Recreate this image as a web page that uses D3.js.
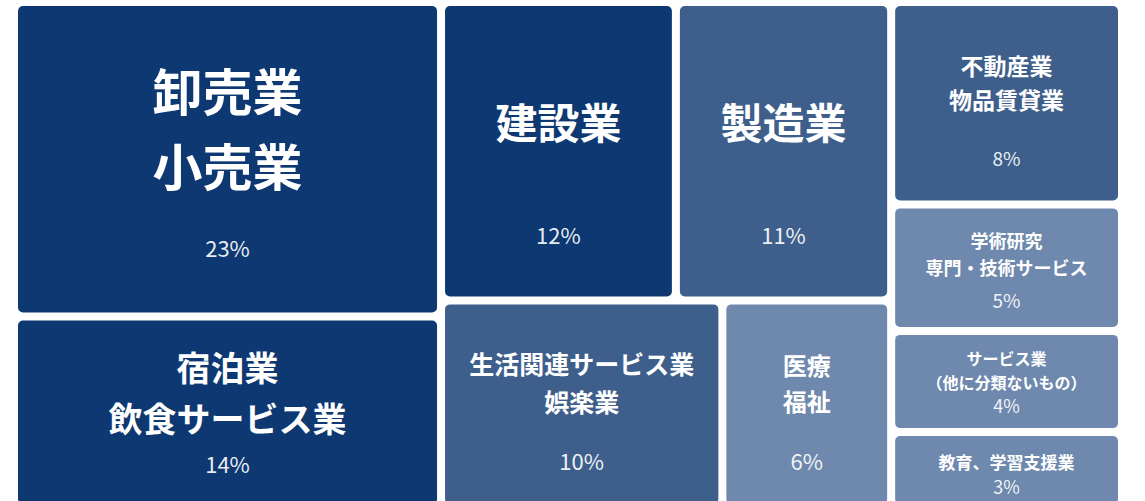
<!DOCTYPE html>
<html lang="ja">
<head>
  <meta charset="UTF-8">
  <title>業種別構成比</title>
  <script src="https://d3js.org/d3.v7.min.js"></script>
  <style>
    html, body { margin: 0; padding: 0; background: #fff; overflow: hidden; }
    svg { display: block; font-family: "Noto Sans CJK JP", "Noto Sans", sans-serif; }
  </style>
</head>
<body>
<div id="chart-container"></div>

<script>
// categories (label lines split by "|")
var categories = [
  "卸売業|小売業",
  "宿泊業|飲食サービス業",
  "建設業",
  "製造業",
  "生活関連サービス業|娯楽業",
  "医療|福祉",
  "不動産業|物品賃貸業",
  "学術研究|専門・技術サービス",
  "サービス業|（他に分類ないもの）",
  "教育、学習支援業"
];
// share of each industry (%)
var shares = [23, 14, 12, 11, 10, 6, 8, 5, 4, 3];
// grouping of the tiles: column, then row inside the column
var column = [0, 0, 1, 1, 1, 1, 2, 2, 2, 2];
var row    = [0, 1, 0, 0, 1, 1, 0, 1, 2, 3];

// label font sizes per tile (style only)
var nameSize = {
  "卸売業|小売業": 50, "宿泊業|飲食サービス業": 34, "建設業": 42, "製造業": 42,
  "生活関連サービス業|娯楽業": 25, "医療|福祉": 24, "不動産業|物品賃貸業": 23,
  "学術研究|専門・技術サービス": 18, "サービス業|（他に分類ないもの）": 16,
  "教育、学習支援業": 17
};

var width = 1145, height = 501;
var margin = { top: 6, left: 18, right: 27, bottom: -3 };

var color = d3.scaleThreshold()
  .domain([8, 12])
  .range(["#6e89ad", "#3e5f8b", "#0d3872"]);

// build hierarchy: root -> columns -> rows -> tiles
var cols = d3.groups(categories.map(function(c, i) {
  return { name: c, value: shares[i], col: column[i], row: row[i] };
}), d => d.col, d => d.row);

var rootData = {
  name: "root",
  children: cols.map(function(c) {
    return { name: "col" + c[0], children: c[1].map(function(r) {
      return { name: "row" + r[0], children: r[1] };
    }) };
  })
};

var root = d3.hierarchy(rootData).sum(d => d.children ? 0 : d.value);

d3.treemap()
  .size([width - margin.left - margin.right, height - margin.top - margin.bottom])
  .paddingInner(8)
  .tile(function(node, x0, y0, x1, y1) {
    if (node.depth === 1) d3.treemapSlice(node, x0, y0, x1, y1);
    else d3.treemapDice(node, x0, y0, x1, y1);
  })(root);

var svg = d3.select("#chart-container")
  .append("svg")
  .attr("width", width)
  .attr("height", height);

var g = svg.append("g")
  .attr("transform", "translate(" + margin.left + "," + margin.top + ")");

var tile = g.selectAll("g.tile")
  .data(root.leaves())
  .join("g")
  .attr("class", "tile")
  .attr("transform", d => "translate(" + d.x0 + "," + d.y0 + ")");

tile.append("rect")
  .attr("width", d => d.x1 - d.x0)
  .attr("height", d => d.y1 - d.y0)
  .attr("rx", 5)
  .attr("fill", d => color(d.data.value));

tile.each(function(d) {
  var t = d3.select(this);
  var w = d.x1 - d.x0, h = d.y1 - d.y0;
  var lines = d.data.name.split("|");
  var fs = nameSize[d.data.name];
  var lh = fs * 1.5;
  var py = h - (0.2 * h + 4);   // percentage sits near the bottom
  var cy = py / 2;              // names centred above it
  var pfs = fs >= 24 ? 22 : (fs >= 18 ? 19 : 18);

  t.selectAll("text.name")
    .data(lines)
    .join("text")
    .attr("class", "name")
    .attr("x", w / 2)
    .attr("y", (l, i) => cy + (i - (lines.length - 1) / 2) * lh)
    .attr("text-anchor", "middle")
    .attr("dominant-baseline", "central")
    .attr("fill", "#fff")
    .style("font-size", fs + "px")
    .style("font-weight", 700)
    .text(l => l);

  t.append("text")
    .attr("x", w / 2)
    .attr("y", py)
    .attr("text-anchor", "middle")
    .attr("dominant-baseline", "central")
    .attr("fill", "#fff")
    .attr("fill-opacity", 0.92)
    .style("font-size", pfs + "px")
    .style("font-weight", 400)
    .text(d.data.value + "%");
});
</script>
</body>
</html>
